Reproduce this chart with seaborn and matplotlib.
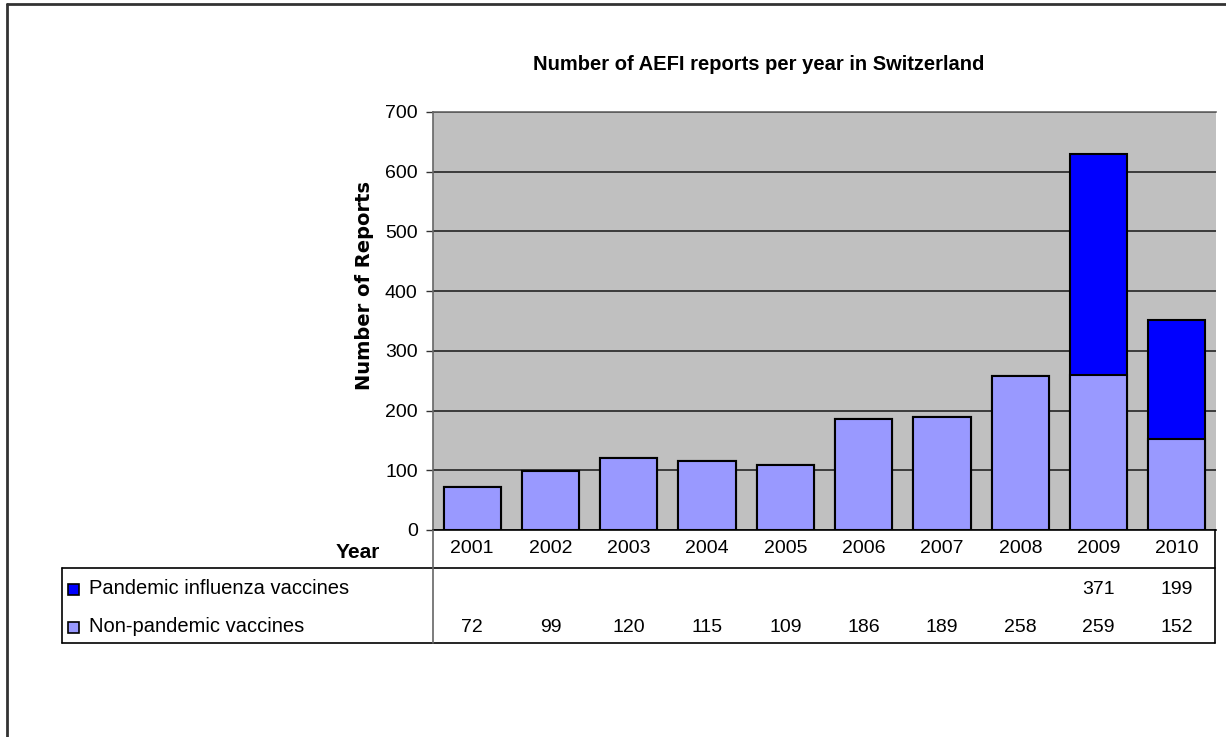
import matplotlib
matplotlib.use("Agg")
import matplotlib.pyplot as plt
import matplotlib.transforms as mtransforms
from matplotlib.lines import Line2D
from matplotlib.patches import Rectangle
import seaborn as sns
import pandas as pd

# ---- data ----
years = ["2001", "2002", "2003", "2004", "2005", "2006", "2007", "2008", "2009", "2010"]
pandemic = [None, None, None, None, None, None, None, None, 371, 199]
non_pandemic = [72, 99, 120, 115, 109, 186, 189, 258, 259, 152]
series_names = ["Pandemic influenza vaccines", "Non-pandemic vaccines"]
yticks = [0, 100, 200, 300, 400, 500, 600, 700]
title = "Number of AEFI reports per year in Switzerland"
ylabel = "Number of Reports"
xlabel = "Year"

totals = [n + (p or 0) for n, p in zip(non_pandemic, pandemic)]
df = pd.DataFrame({"year": years, "total": totals, "non": non_pandemic})

sns.set_theme(style="white")
plt.rcParams["font.family"] = ["Liberation Sans", "DejaVu Sans"]
plt.rcParams["text.color"] = "black"
plt.rcParams["axes.labelcolor"] = "black"
plt.rcParams["xtick.color"] = "black"
plt.rcParams["ytick.color"] = "black"

W, H = 1226, 737
fig = plt.figure(figsize=(W / 100, H / 100), dpi=100)
fig.patch.set_facecolor("white")


def fx(x):
    return x / W


def fy(y):
    return 1 - y / H


L, R, T, B = 433, 1216, 112, 530
ax = fig.add_axes([fx(L), fy(B), (R - L) / W, (B - T) / H])
ax.set_facecolor("#C0C0C0")

dark = "#0000FF"
light = "#9999FF"
sns.barplot(data=df, x="year", y="total", color=dark, saturation=1, width=0.73,
            edgecolor="black", linewidth=1.5, ax=ax, zorder=3)
sns.barplot(data=df, x="year", y="non", color=light, saturation=1, width=0.73,
            edgecolor="black", linewidth=1.5, ax=ax, zorder=4)

ax.set_ylim(0, 700)
ax.set_xlim(-0.5, len(years) - 0.5)
ax.set_yticks(yticks)
ax.set_yticklabels([str(v) for v in yticks], fontsize=14, color="black")
ax.yaxis.grid(True, color="#303030", linewidth=1.3, zorder=1)
ax.xaxis.grid(False)
ax.set_axisbelow(True)
ax.tick_params(axis="y", length=5, width=1, color="#333333", left=True, pad=6,
               labelcolor="black")
ax.tick_params(axis="x", length=0, pad=7, labelsize=14, labelcolor="black")
ax.set_xlabel("")
ax.set_ylabel("")
ax.spines["right"].set_visible(False)
ax.spines["left"].set_color("#666666")
ax.spines["left"].set_linewidth(1.2)
ax.spines["top"].set_color("#666666")
ax.spines["top"].set_linewidth(1.2)
ax.spines["bottom"].set_color("black")
ax.spines["bottom"].set_linewidth(1.2)

# title and labels
fig.text(fx(759), fy(64), title, ha="center", va="center", fontsize=14.5,
         fontweight="bold", color="black")
fig.text(fx(365), fy(285), ylabel, ha="center", va="center", rotation=90,
         fontsize=14, fontweight="bold", family=["DejaVu Sans"], color="black")
fig.text(fx(380), fy(553), xlabel, ha="right", va="center", fontsize=15,
         fontweight="bold", color="black")

# data table
lc = "black"
lines = [
    ((62, 1215), (568, 568), lc),
    ((62, 1215), (643, 643), lc),
    ((62, 62), (568, 643), lc),
    ((1215, 1215), (530, 643), lc),
    ((433, 433), (530, 643), "#666666"),
]
for xs, ys, c in lines:
    fig.add_artist(Line2D([fx(xs[0]), fx(xs[1])], [fy(ys[0]), fy(ys[1])],
                          transform=fig.transFigure, color=c, linewidth=1.2))

row_y = [589, 627]
row_colors = [dark, light]
for name, yy, col in zip(series_names, row_y, row_colors):
    fig.add_artist(Rectangle((fx(68), fy(yy + 6)), 11 / W, 11 / H, transform=fig.transFigure,
                             facecolor=col, edgecolor="black", linewidth=1.2))
    fig.text(fx(89), fy(yy), name, ha="left", va="center", fontsize=14.5, color="black")

blend = mtransforms.blended_transform_factory(ax.transData, fig.transFigure)
for i, (p, n) in enumerate(zip(pandemic, non_pandemic)):
    if p is not None:
        ax.text(i, fy(row_y[0]), str(p), transform=blend, ha="center", va="center",
                fontsize=14, clip_on=False, color="black")
    ax.text(i, fy(row_y[1]), str(n), transform=blend, ha="center", va="center",
            fontsize=14, clip_on=False, color="black")

# outer border
fig.add_artist(Line2D([fx(7), fx(7)], [fy(4), fy(737)], transform=fig.transFigure,
                      color="#333333", linewidth=2))
fig.add_artist(Line2D([fx(7), fx(1226)], [fy(4), fy(4)], transform=fig.transFigure,
                      color="#333333", linewidth=2))

fig.savefig("out.png", dpi=100)
